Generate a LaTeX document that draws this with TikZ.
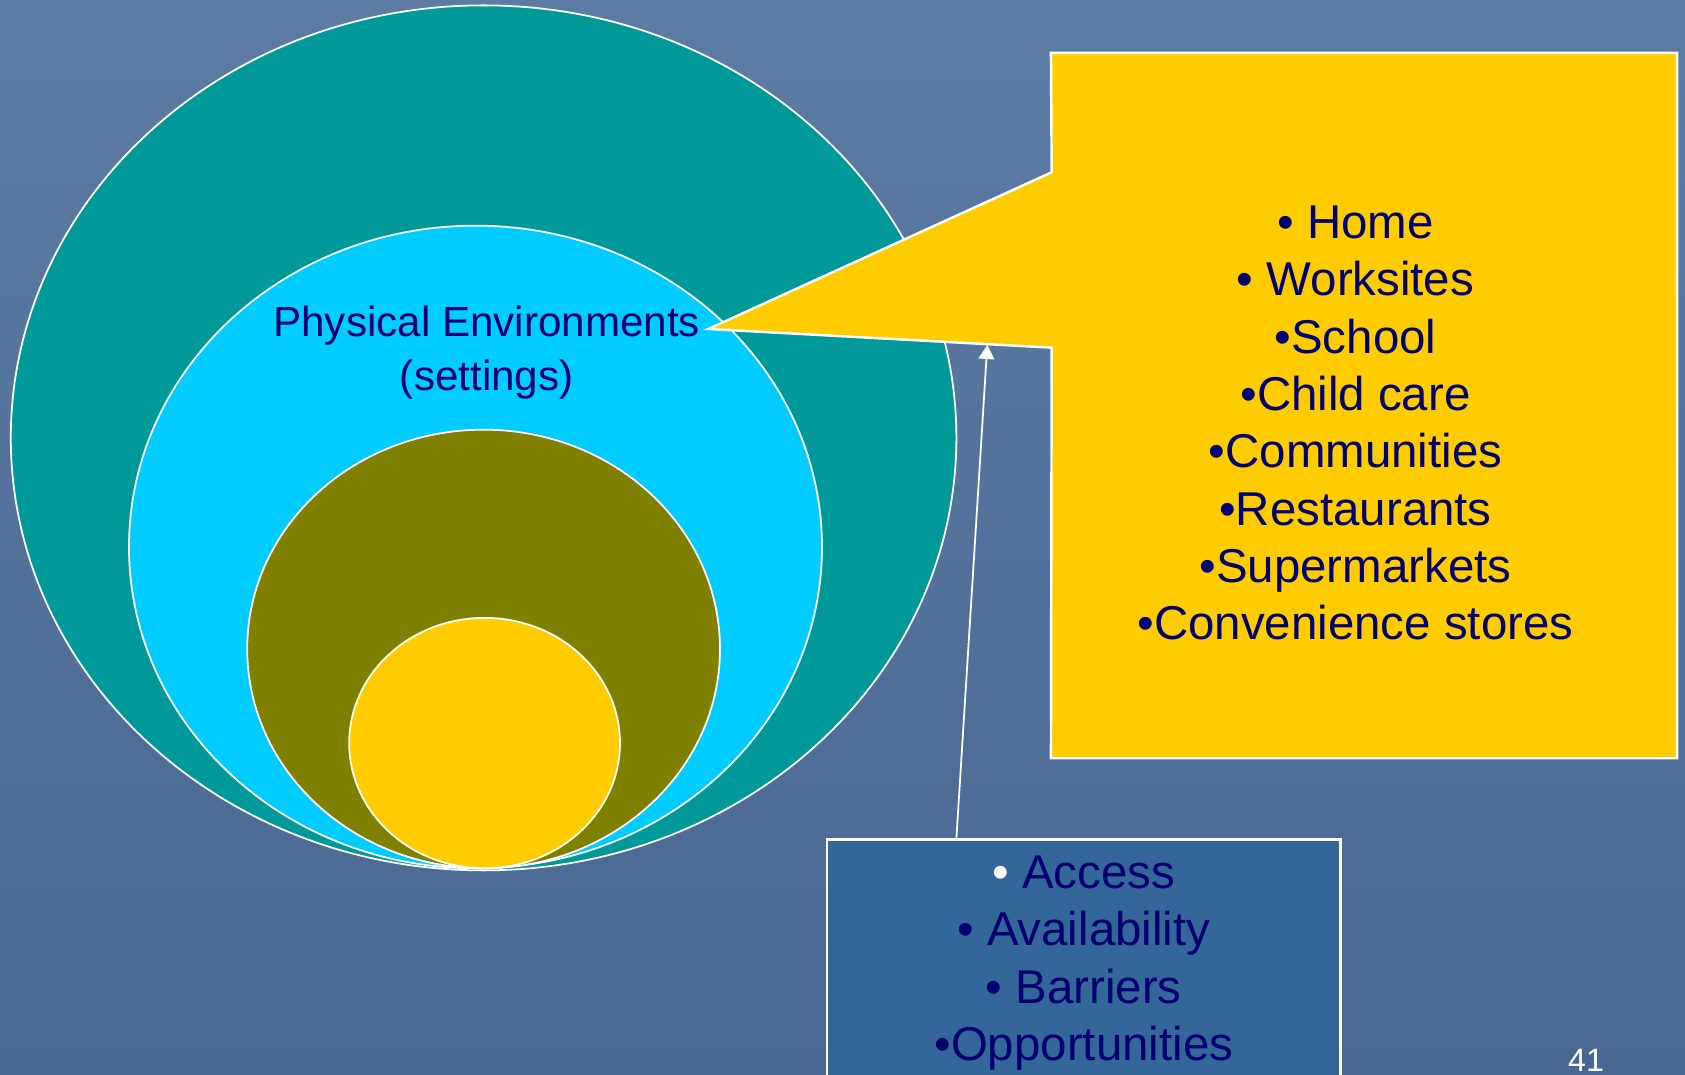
\documentclass[tikz,border=0pt]{standalone}
\usepackage{fontspec}
\setmainfont{Liberation Sans}
\usetikzlibrary{arrows.meta, positioning, shapes.geometric}

\definecolor{slide}{RGB}{92,124,164}
\definecolor{slidedark}{RGB}{72,104,146}
\definecolor{ring1}{RGB}{0,153,153}
\definecolor{ring2}{RGB}{0,204,255}
\definecolor{ring3}{RGB}{128,128,0}
\definecolor{ring4}{RGB}{255,204,0}
\definecolor{navy}{RGB}{0,0,112}
\definecolor{panel}{RGB}{51,102,153}

\begin{document}
\begin{tikzpicture}[
    ring/.style={draw=white, line width=0.5pt, ellipse, inner sep=0pt},
    callout/.style={draw=white, line width=0.7pt, fill=ring4},
    listtext/.style={text=navy, align=center, inner sep=0pt, font=\fontsize{13.5}{16.3}\selectfont}
]
    % Background
    \useasboundingbox (0,0) rectangle (16.85,10.75);
    \clip (0,0) rectangle (16.85,10.75);
    \shade[top color=slide, bottom color=slidedark] (0,0) rectangle (16.85,10.75);

    % Nested settings
    \node[ring, fill=ring1, minimum width=9.456cm, minimum height=8.65cm] (outer) at (4.836,6.371) {};
    \node[ring, fill=ring2, minimum width=6.93cm, minimum height=6.426cm] (physical) at (4.755,5.28) {};
    \node[ring, fill=ring3, minimum width=4.728cm, minimum height=4.386cm] (middle) at (4.836,4.26) {};
    \node[ring, fill=ring4, minimum width=2.708cm, minimum height=2.504cm] (inner) at (4.846,3.319) {};
    \node[text=navy, align=center, inner sep=0pt, anchor=north, font=\fontsize{12}{15.5}\selectfont] (physlabel) at (4.867,7.702) {Physical Environments\\(settings)};

    % Callout with the list of settings
    \node[minimum width=6.247cm, minimum height=7.039cm, inner sep=0pt] (settings) at (13.64,6.694) {};
    \coordinate (tip) at (7.083,7.46);
    \coordinate (upper) at (10.517,9.027);
    \coordinate (lower) at (10.517,7.273);
    \draw[callout] (settings.north west) -- (settings.north east) -- (settings.south east) -- (settings.south west) -- (lower) -- (tip) -- (upper) -- cycle;
    \node[listtext, anchor=north] (settinglist) at (13.555,8.697) {• Home\\• Worksites\\•School\\•Child care\\•Communities\\•Restaurants\\•Supermarkets\\•Convenience stores};

    % Box of factors
    \node[draw=white, line width=0.7pt, fill=panel, minimum width=5.136cm, minimum height=3cm, anchor=north] (factors) at (10.838,2.367) {};
    \node[listtext, below=0.17cm of factors.north] (factorlist) {{\color{white}•} Access\\• Availability\\• Barriers\\•Opportunities};

    % Connection
    \coordinate (foot) at ([xshift=-1.274cm]factors.north);
    \coordinate (head) at (9.873,7.30);
    \draw[white, line width=0.5pt, arrows={-Triangle[width=4.5pt, length=4pt]}] (foot) -- (head);

    \node[text=white, anchor=base, inner sep=0pt, font=\fontsize{9.2}{11}\selectfont] (pagenum) at (15.86,0.03) {41};
\end{tikzpicture}
\end{document}
